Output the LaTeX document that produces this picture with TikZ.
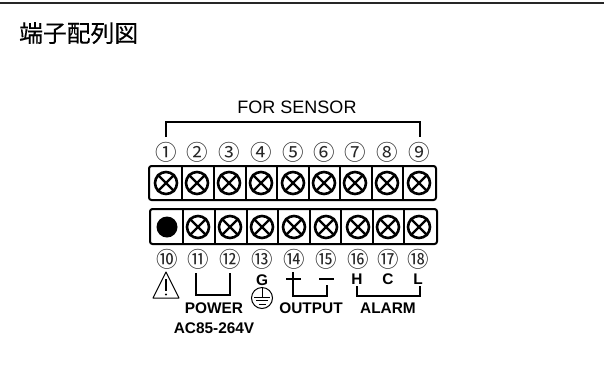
\documentclass[tikz,border=0pt]{standalone}
\usepackage{fontspec}
\setmainfont{Liberation Sans}
\newfontfamily\cjk{Noto Sans CJK JP}
\newfontfamily\cjktitle[FakeBold=0.35]{Noto Sans CJK JP}
\tikzset{
  num/.style={inner sep=0pt,font=\cjk\fontsize{21.5}{21.5}\selectfont,text=black!85},
  lab/.style={inner sep=0pt,font=\fontsize{15.4}{15.4}\selectfont\bfseries},
  wire/.style={draw=black,line width=1.3pt},
  blockbox/.style={draw=black,line width=2pt,rounded corners=2.5pt},
  divider/.style={draw=black,line width=1.5pt},
  screw/.style={draw=black,line width=2.6pt,circle,minimum size=22pt,inner sep=0pt}
}
\begin{document}
\begin{tikzpicture}[x=1pt,y=-1pt]
\useasboundingbox (0,0) rectangle (604,365);
\draw[line width=1.4pt,black!85] (0,3) -- (604,3);
\node[anchor=west,inner sep=0pt,font=\cjktitle\fontsize{23.8}{23.8}\selectfont] (title) at (19,33) {端子配列図};
\node[inner sep=0pt,font=\fontsize{18}{18}\selectfont] (sensor) at (297,107) {FOR SENSOR};
% blocks
\node[blockbox,minimum width=287pt,minimum height=34pt,inner sep=0pt] (top) at (292.5,183) {};
\node[blockbox,minimum width=287pt,minimum height=35pt,inner sep=0pt] (bot) at (293.5,226.5) {};
\foreach \x in {182,214,246,277,309,340,372,403}{
  \draw[divider] (\x,166) -- (\x,200);
  \draw[divider] (\x+1,209) -- (\x+1,244);
}
% top screws and numbers
\foreach \x/\n/\g in {166/1/①,197/2/②,229/3/③,261/4/④,293/5/⑤,324/6/⑥,355/7/⑦,387/8/⑧,419/9/⑨}{
  \node[screw] (s\n) at (\x,183) {};
  \draw[line width=2.4pt] (s\n.45) -- (s\n.225) (s\n.135) -- (s\n.315);
  \node[num] (n\n) at (\x,152) {\g};
}
% bottom screws and numbers
\node[circle,fill=black,minimum size=21pt,inner sep=0pt] (s10) at (167,227) {};
\foreach \x/\n in {198/11,230/12,262/13,294/14,326/15,358/16,388/17,419/18}{
  \node[screw] (s\n) at (\x,227) {};
  \draw[line width=2.4pt] (s\n.45) -- (s\n.225) (s\n.135) -- (s\n.315);
}
\foreach \x/\n/\g in {167/10/⑩,198/11/⑪,230/12/⑫,262/13/⑬,294/14/⑭,326/15/⑮,358/16/⑯,388/17/⑰,418/18/⑱}{
  \node[num] (n\n) at (\x,259) {\g};
}
% sensor bracket
\coordinate (a1) at (166,137); \coordinate (a2) at (420,137);
\coordinate (a3) at (166,122); \coordinate (a4) at (420,122);
\draw[wire] (a1) -- (a3) -- (a4) -- (a2);
% caution
\draw[line width=1pt,line join=round] (166,272) -- (179,298) -- (153,298) -- cycle;
\draw[line width=1.8pt] (166,279) -- (166,291);
\fill (166,294.5) circle (1.2pt);
% letters
\node[lab] (g) at (262,280) {G};
\node[lab] (h) at (357,279) {H};
\node[lab] (c) at (388,279) {C};
\node[lab] (l) at (418,279) {L};
\node[lab] (power) at (214,308) {POWER};
\node[lab] (ac) at (214,328) {AC85-264V};
\node[lab] (output) at (311,308) {OUTPUT};
\node[lab] (alarm) at (388,308) {ALARM};
% ground
\node[draw=black,line width=1pt,circle,minimum size=21pt,inner sep=0pt] (gnd) at (262,298) {};
\draw[line width=1pt] (262,288) -- (262,297) (254,297) -- (270,297) (256,300.5) -- (268,300.5) (258.5,304) -- (265.5,304);
% plus minus
\draw[line width=1.3pt] (286,279) -- (301,279) (293,272) -- (293,296) -- (327,296) -- (327,285);
\draw[line width=1.3pt] (319,279) -- (334,279);
% power bracket
\draw[wire] (196,273) -- (196,295) -- (230,295) -- (230,273);
% alarm bracket
\draw[wire] (357,286) -- (357,296) -- (420,296) -- (420,286);
\end{tikzpicture}
\end{document}
